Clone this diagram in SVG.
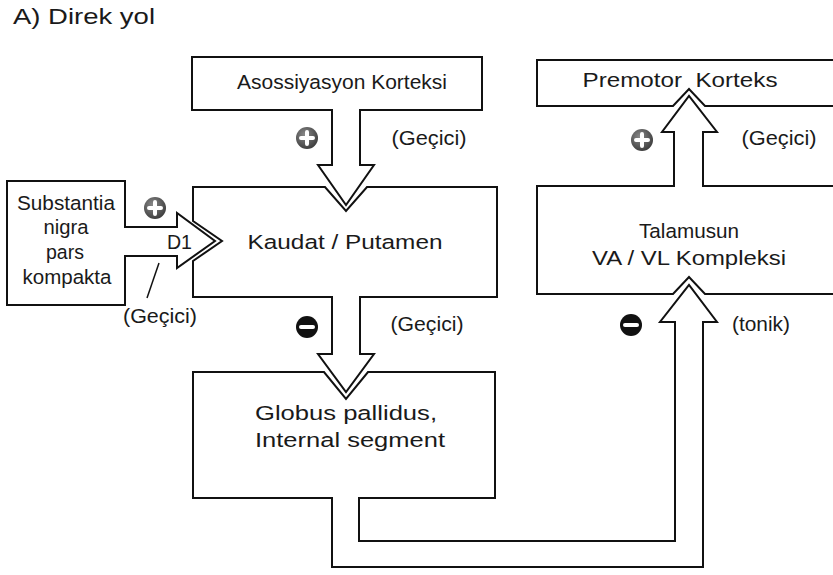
<svg xmlns="http://www.w3.org/2000/svg" width="833" height="575" viewBox="0 0 833 575">
<defs>
<radialGradient id="gp" cx="0.4" cy="0.35" r="0.7">
<stop offset="0" stop-color="#8a8a8a"/>
<stop offset="1" stop-color="#3a3a3a"/>
</radialGradient>
<style>
.box{fill:#fff;stroke:#111;stroke-width:2;stroke-linejoin:miter}
.t{font-family:"Liberation Sans",Arial,sans-serif;font-size:20.5px;fill:#1a1a1a}
.m{text-anchor:middle}
.plus{fill:url(#gp)}
.minus{fill:#111}
.sign{stroke:#fff;stroke-width:4;stroke-linecap:round}
</style>
</defs>
<rect width="833" height="575" fill="#fff"/>
<text class="t" x="13" y="24" style="font-size:22px" textLength="142" lengthAdjust="spacingAndGlyphs">A) Direk yol</text>

<g id="premotor">
<path class="box" d="M537,60 H842 V106 H705 L689,89 L673,106 H537 Z"/>
<text class="t m" x="680" y="87" textLength="195" lengthAdjust="spacingAndGlyphs" xml:space="preserve">Premotor  Korteks</text>
</g>

<g id="talamus">
<path class="box" d="M537,186 H674 V132 H662 L689,96 L717,132 H703 V186 H842 V294 H705 L689,277 L673,294 H537 Z"/>
<text class="t m" x="689" y="238" textLength="100" lengthAdjust="spacingAndGlyphs">Talamusun</text>
<text class="t m" x="689" y="265" textLength="194" lengthAdjust="spacingAndGlyphs">VA / VL Kompleksi</text>
</g>

<g id="asosiyasyon">
<path class="box" d="M192,57 H482 V110 H360 V165 H374 L346,205 L318,165 H332 V110 H192 Z"/>
<text class="t m" x="342" y="89" textLength="210" lengthAdjust="spacingAndGlyphs">Asossiyasyon Korteksi</text>
</g>

<g id="kaudat">
<path class="box" d="M193,187 H325 L346,211 L367,187 H497 V297 H360 V354 H374 L346,392 L318,354 H332 V297 H193 V261 L222,241 L193,221 Z"/>
<text class="t m" x="345" y="249" textLength="195" lengthAdjust="spacingAndGlyphs">Kaudat / Putamen</text>
</g>

<g id="substantia">
<path class="box" d="M7,181 H125 V227 H177 V213 L215,241 L177,268 V256 H125 V305 H7 Z"/>
<text class="t m" x="66" y="210" textLength="98" lengthAdjust="spacingAndGlyphs">Substantia</text>
<text class="t m" x="66" y="234" textLength="45" lengthAdjust="spacingAndGlyphs">nigra</text>
<text class="t m" x="65" y="259" textLength="38" lengthAdjust="spacingAndGlyphs">pars</text>
<text class="t m" x="67" y="284" textLength="89" lengthAdjust="spacingAndGlyphs">kompakta</text>
<text class="t" x="167" y="249" textLength="25" lengthAdjust="spacingAndGlyphs">D1</text>
</g>

<g id="globus">
<path class="box" d="M193,372 H324 L346,399 L368,372 H495 V498 H359 V541 H675 V322 H660 L689,285 L717,322 H703 V567 H332 V498 H193 Z"/>
<text class="t m" x="346" y="420" textLength="182" lengthAdjust="spacingAndGlyphs">Globus pallidus,</text>
<text class="t m" x="350" y="447" textLength="190" lengthAdjust="spacingAndGlyphs">Internal segment</text>
</g>

<g id="connectors">
<line x1="159" y1="263" x2="147" y2="298" stroke="#111" stroke-width="1.5"/>
<text class="t m" x="160" y="323" textLength="74" lengthAdjust="spacingAndGlyphs">(Geçici)</text>
<text class="t m" x="429" y="145" textLength="75" lengthAdjust="spacingAndGlyphs">(Geçici)</text>
<text class="t m" x="779" y="145" textLength="75" lengthAdjust="spacingAndGlyphs">(Geçici)</text>
<text class="t m" x="427" y="331" textLength="73" lengthAdjust="spacingAndGlyphs">(Geçici)</text>
<text class="t m" x="761" y="331" textLength="58" lengthAdjust="spacingAndGlyphs">(tonik)</text>
<g id="plus1"><circle class="plus" cx="307" cy="138" r="11"/><path class="sign" d="M301,138 H313 M307,132 V144"/></g>
<g id="plus2"><circle class="plus" cx="155" cy="208" r="11"/><path class="sign" d="M149,208 H161 M155,202 V214"/></g>
<g id="plus3"><circle class="plus" cx="642" cy="140" r="11"/><path class="sign" d="M636,140 H648 M642,134 V146"/></g>
<g id="minus1"><circle class="minus" cx="307" cy="327" r="11"/><path class="sign" d="M301,327 H313"/></g>
<g id="minus2"><circle class="minus" cx="631" cy="325" r="11"/><path class="sign" d="M625,325 H637"/></g>
</g>
</svg>
